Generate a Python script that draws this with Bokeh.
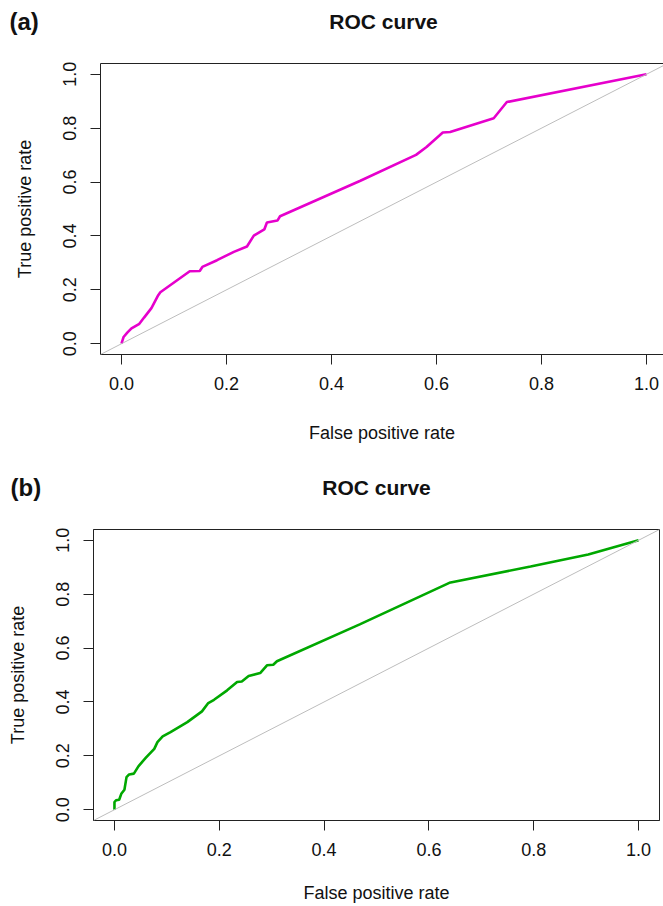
from bokeh.plotting import figure
from bokeh.layouts import column, row
from bokeh.models import Slope, FixedTicker, LinearAxis, Range1d
from bokeh.core.properties import value
from bokeh.embed import file_html
from bokeh.resources import INLINE

# ---- data ----
ticks = [0.0, 0.2, 0.4, 0.6, 0.8, 1.0]
tick_labels = ["0.0", "0.2", "0.4", "0.6", "0.8", "1.0"]

fpr_a = [0.0, 0.004, 0.011, 0.019, 0.034, 0.043, 0.057, 0.070, 0.074, 0.130, 0.149,
         0.154, 0.182, 0.214, 0.239, 0.252, 0.272, 0.277, 0.297, 0.302, 0.455, 0.561,
         0.581, 0.612, 0.626, 0.709, 0.734, 1.0]
tpr_a = [0.0, 0.025, 0.041, 0.057, 0.074, 0.097, 0.132, 0.180, 0.191, 0.269, 0.270,
         0.285, 0.310, 0.341, 0.361, 0.401, 0.424, 0.450, 0.457, 0.473, 0.605, 0.701,
         0.730, 0.784, 0.786, 0.837, 0.897, 1.0]

fpr_b = [0.0, 0.0, 0.003, 0.009, 0.013, 0.019, 0.023, 0.028, 0.037, 0.046, 0.060,
         0.076, 0.082, 0.092, 0.107, 0.139, 0.167, 0.179, 0.190, 0.215, 0.234, 0.243,
         0.256, 0.278, 0.291, 0.303, 0.310, 0.468, 0.639, 0.794, 0.904, 1.0]
tpr_b = [0.0, 0.028, 0.035, 0.037, 0.059, 0.074, 0.121, 0.131, 0.134, 0.162, 0.193,
         0.226, 0.251, 0.272, 0.288, 0.325, 0.365, 0.396, 0.408, 0.443, 0.474, 0.476,
         0.496, 0.507, 0.536, 0.538, 0.551, 0.688, 0.842, 0.903, 0.947, 1.0]

panel_tags = ["(a)", "(b)"]
title_text = "ROC curve"
x_title = "False positive rate"
y_title = "True positive rate"

FONT = "Liberation Sans"
INK = "#222222"
TXT = "#111111"
W = 663


def header(tag, tag_x, title_x, text_y, h):
    hd = figure(width=W, height=h, output_backend="svg", toolbar_location=None,
                x_range=Range1d(0, W), y_range=Range1d(0, h),
                min_border=0, min_border_left=0, min_border_right=0,
                min_border_top=0, min_border_bottom=0)
    hd.axis.visible = False
    hd.grid.visible = False
    hd.outline_line_color = None
    hd.text(x=[tag_x], y=[text_y], text=[tag], text_font=value(FONT),
            text_font_style="bold", text_font_size="24px", text_align="left",
            text_baseline="middle", text_color=TXT)
    hd.text(x=[title_x], y=[text_y], text=[title_text], text_font=value(FONT),
            text_font_style="bold", text_font_size="21px", text_align="center",
            text_baseline="middle", text_color=TXT)
    return hd


def panel(fpr, tpr, color, height, left, right, top, bottom, x_end,
          use_outline, xlab_standoff, ylab_standoff):
    p = figure(width=W, height=height, output_backend="svg", toolbar_location=None,
               x_range=Range1d(-0.04, x_end), y_range=Range1d(-0.04, 1.04),
               min_border_left=left, min_border_right=right,
               min_border_top=top, min_border_bottom=bottom)
    p.grid.visible = False
    p.background_fill_color = "white"
    p.border_fill_color = "white"
    xa = p.below[0]
    ya = p.left[0]
    for ax in (xa, ya):
        ax.ticker = FixedTicker(ticks=ticks)
        ax.major_label_overrides = {t: s for t, s in zip(ticks, tick_labels)}
        ax.minor_tick_line_color = None
        ax.major_tick_in = 0
        ax.major_tick_out = 10
        ax.major_tick_line_color = INK
        ax.axis_line_color = INK
        ax.major_label_text_font = FONT
        ax.major_label_text_font_size = "18px"
        ax.major_label_text_color = TXT
        ax.axis_label_text_font = FONT
        ax.axis_label_text_font_size = "18px"
        ax.axis_label_text_font_style = "normal"
        ax.axis_label_text_color = TXT
    xa.major_label_standoff = 12
    ya.major_label_standoff = 14
    xa.axis_label = x_title
    ya.axis_label = y_title
    xa.axis_label_standoff = xlab_standoff
    ya.axis_label_standoff = ylab_standoff
    ya.major_label_orientation = "vertical"

    if use_outline:
        p.outline_line_color = INK
        p.outline_line_width = 1
    else:
        p.outline_line_color = None
        top_ax = LinearAxis(ticker=FixedTicker(ticks=[]), major_tick_line_color=None,
                            minor_tick_line_color=None, major_label_text_font_size="1px",
                            major_label_text_color=None, major_label_standoff=0,
                            axis_line_color=INK, axis_line_width=1)
        p.add_layout(top_ax, "above")

    p.add_layout(Slope(gradient=1, y_intercept=0, line_color="#bdbdbd", line_width=1))
    p.line(fpr, tpr, line_color=color, line_width=2.6)
    return p


ha = header(panel_tags[0], 9, 383, 21, 42)
pa = panel(fpr_a, tpr_a, "#e600cc", 423, 100, 0, 21, 111,
           -0.04 + 563 / 525, False, 30, 26)
hb = header(panel_tags[1], 10, 376, 18, 40)
pb = panel(fpr_b, tpr_b, "#00a800", 401, 93, 4, 24, 86,
           1.04, True, 24, 26)

layout = column(row(ha), row(pa), row(hb), row(pb), spacing=0)
open("out.html", "w").write(file_html(layout, INLINE))
